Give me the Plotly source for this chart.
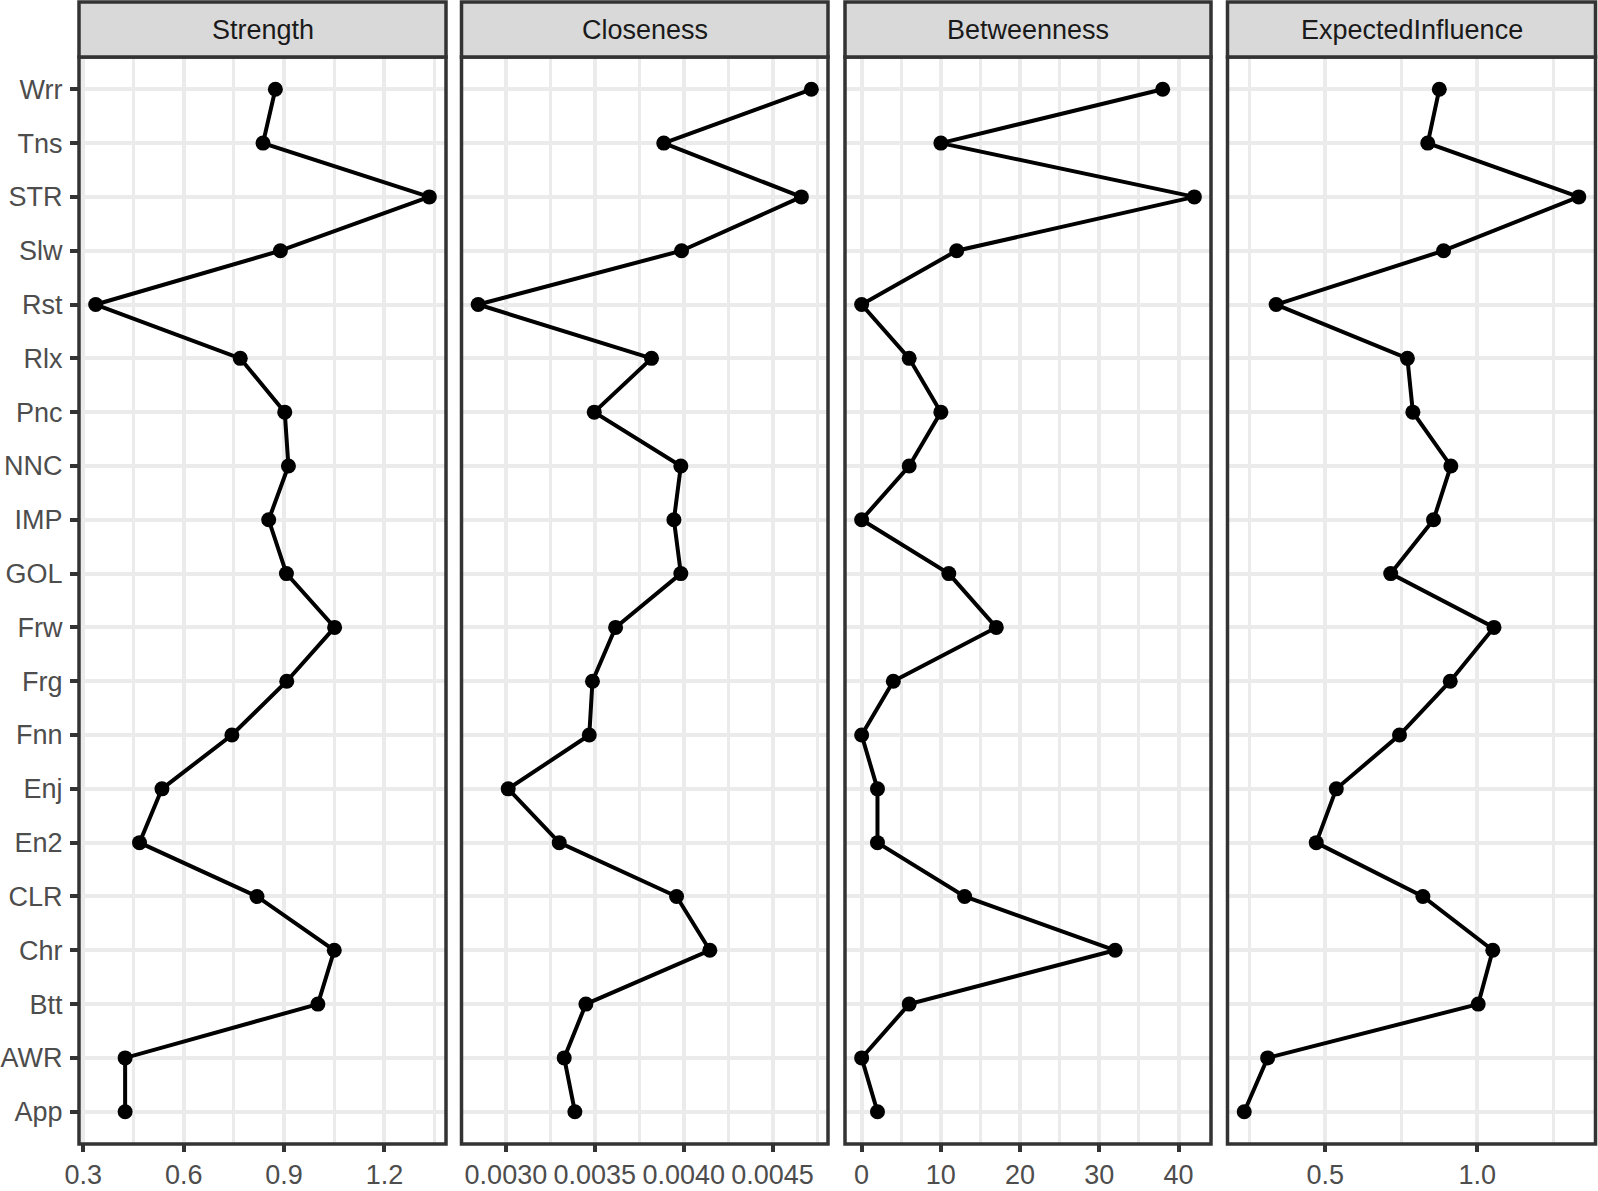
import plotly.graph_objects as go

# nodes, bottom to top
nodes = ["App", "AWR", "Btt", "Chr", "CLR", "En2", "Enj", "Fnn", "Frg", "Frw",
         "GOL", "IMP", "NNC", "Pnc", "Rlx", "Rst", "Slw", "STR", "Tns", "Wrr"]

strength = [0.425, 0.425, 1.001, 1.050, 0.819, 0.468, 0.535, 0.744, 0.908, 1.051,
            0.907, 0.854, 0.913, 0.902, 0.769, 0.337, 0.889, 1.334, 0.837, 0.874]
closeness = [0.003388, 0.003328, 0.003450, 0.004147, 0.003960, 0.003300, 0.003013,
             0.003469, 0.003487, 0.003617, 0.003984, 0.003945, 0.003984, 0.003497,
             0.003819, 0.002844, 0.003988, 0.004662, 0.003888, 0.004718]
betweenness = [2, 0, 6, 32, 13, 2, 2, 0, 4, 17, 11, 0, 6, 10, 6, 0, 12, 42, 10, 38]
expected_influence = [0.233, 0.310, 1.003, 1.051, 0.821, 0.470, 0.536, 0.744, 0.911, 1.055,
                      0.715, 0.856, 0.913, 0.788, 0.770, 0.338, 0.889, 1.334, 0.837, 0.875]

panels = [
    ("Strength", strength, 0.3, 0.3, ".1f"),
    ("Closeness", closeness, 0.0005, 0.0, ".4f"),
    ("Betweenness", betweenness, 10, 0, "d"),
    ("ExpectedInfluence", expected_influence, 0.5, 0.0, ".1f"),
]

W, H = 1598, 1191
# panel pixel extents (left, right)
px_cols = [(79, 446), (461.5, 828), (845, 1211), (1227.5, 1595.5)]
panel_top, panel_bottom, strip_top = 57, 1144, 2

grid = "#EBEBEB"
border = "#333333"
font = "Liberation Sans, Arial, sans-serif"

fig = go.Figure()
layout = dict(
    width=W, height=H,
    margin=dict(l=0, r=0, t=0, b=0, pad=0),
    paper_bgcolor="white", plot_bgcolor="white",
    showlegend=False,
    font=dict(family=font, size=27, color="#4D4D4D"),
)
shapes, annotations = [], []
y_dom = [1 - panel_bottom / H, 1 - panel_top / H]

for i, (title, vals, dtick, tick0, fmt) in enumerate(panels):
    n = "" if i == 0 else str(i + 1)
    fig.add_trace(go.Scatter(
        x=vals, y=nodes, mode="lines+markers",
        xaxis="x" + n, yaxis="y" + n,
        line=dict(color="black", width=4),
        marker=dict(color="black", size=15),
        cliponaxis=False,
    ))
    lo, hi = min(vals), max(vals)
    pad = 0.05 * (hi - lo)
    l, r = px_cols[i]
    layout["xaxis" + n] = dict(
        domain=[l / W, r / W], anchor="y" + n, range=[lo - pad, hi + pad],
        tick0=tick0, dtick=dtick, tickformat=fmt, automargin=False,
        showgrid=True, gridcolor=grid, gridwidth=3.5, zeroline=False,
        minor=dict(dtick=dtick / 2, tick0=tick0, showgrid=True, gridcolor=grid, gridwidth=2.5),
        ticks="outside", ticklen=7, tickwidth=3.5, tickcolor=border,
        tickfont=dict(size=27, color="#4D4D4D"), showline=False,
    )
    layout["yaxis" + n] = dict(
        domain=y_dom, anchor="x" + n, type="category", automargin=False,
        categoryorder="array", categoryarray=nodes, range=[-0.6, len(nodes) - 0.4],
        showgrid=True, gridcolor=grid, gridwidth=3.5, zeroline=False,
        showticklabels=(i == 0),
        ticks="outside" if i == 0 else "", ticklen=8, tickwidth=3.5, tickcolor=border,
        tickfont=dict(size=27, color="#4D4D4D"), ticklabelstandoff=2,
    )
    # panel border
    shapes.append(dict(type="rect", xref="x" + n + " domain", yref="y" + n + " domain",
                       x0=0, x1=1, y0=0, y1=1, line=dict(color=border, width=3.5),
                       layer="above"))
    # strip
    shapes.append(dict(type="rect", xref="x" + n + " domain", yref="paper",
                       x0=0, x1=1, y0=1 - panel_top / H, y1=1 - strip_top / H,
                       fillcolor="#D9D9D9", line=dict(color=border, width=3.5),
                       layer="above"))
    annotations.append(dict(text=title, xref="x" + n + " domain", yref="paper",
                            x=0.5, y=1 - (panel_top + strip_top) / 2 / H,
                            xanchor="center", yanchor="middle", showarrow=False,
                            font=dict(family=font, size=27, color="#1A1A1A")))

layout["shapes"] = shapes
layout["annotations"] = annotations
fig.update_layout(**layout)

# drop the page's default body margin so the figure fills the window
fig.write_html("out.html", config={"displayModeBar": False},
               post_script="document.body.style.margin='0px';")
